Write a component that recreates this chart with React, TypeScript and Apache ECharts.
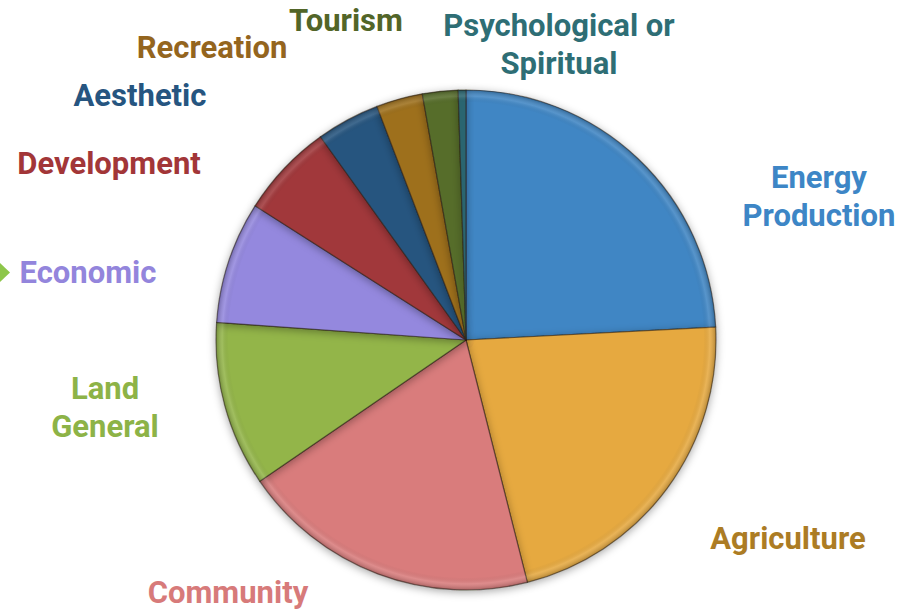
import React, { useEffect, useRef } from "react";
import * as echarts from "echarts";

const categories = [
  "Energy Production",
  "Agriculture",
  "Community",
  "Land General",
  "Economic",
  "Development",
  "Aesthetic",
  "Recreation",
  "Tourism",
  "Psychological or Spiritual",
];
const values = [24.2, 21.9, 19.4, 10.7, 7.9, 6.1, 4.1, 3.0, 2.3, 0.5];
const labelTexts = [
  "Energy\nProduction",
  "Agriculture",
  "Community",
  "Land\nGeneral",
  "Economic",
  "Development",
  "Aesthetic",
  "Recreation",
  "Tourism",
  "Psychological or\nSpiritual",
];
const sliceColors = [
  "#3F86C4",
  "#E6A93F",
  "#D97B7B",
  "#93B54A",
  "#9488DE",
  "#A1393B",
  "#27557F",
  "#9E6F1F",
  "#566D2A",
  "#2B6570",
];
const labelColors = [
  "#3D86C6",
  "#AC7C24",
  "#D77A7A",
  "#8DB347",
  "#9385DC",
  "#A23638",
  "#265580",
  "#94651E",
  "#526528",
  "#2E6E75",
];
// label centre positions (layout only)
const labelPos: [number, number][] = [
  [819, 196],
  [788, 538],
  [228, 592],
  [105, 407],
  [88, 272],
  [109, 163],
  [140, 95],
  [212, 47],
  [346, 20],
  [559, 44],
];

export default function App() {
  const ref = useRef<HTMLDivElement>(null);
  useEffect(() => {
    if (!ref.current) return;
    const chart = echarts.init(ref.current, undefined, { renderer: "svg" });
    chart.setOption({
      animation: false,
      backgroundColor: "#ffffff",
      graphic: [
        {
          type: "polygon",
          shape: { points: [[0, 263], [10, 272.5], [0, 282]] },
          style: { fill: "#8DC64A" },
        },
      ],
      series: [
        {
          type: "pie",
          center: [466, 340],
          radius: 250,
          startAngle: 90,
          clockwise: true,
          avoidLabelOverlap: false,
          data: categories.map((name, i) => ({
            name,
            value: values[i],
            itemStyle: {
              color: sliceColors[i],
            },
            label: { color: labelColors[i] },
          })),
          itemStyle: {
            borderColor: "rgba(40,30,20,0.55)",
            borderWidth: 1.2,
            shadowBlur: 8,
            shadowOffsetY: 2,
            shadowColor: "rgba(0,0,0,0.35)",
          },
          label: {
            show: true,
            position: "outside",
            formatter: (p: any) => labelTexts[p.dataIndex],
            fontFamily: "Roboto",
            fontWeight: "bold",
            fontSize: 31,
            lineHeight: 38,
            align: "center",
          },
          labelLine: { show: false },
          labelLayout: (p: any) => ({
            x: labelPos[p.dataIndex][0],
            y: labelPos[p.dataIndex][1],
            align: "center",
            verticalAlign: "middle",
          }),
          emphasis: { disabled: true },
        },
        {
          type: "pie",
          center: [466, 340],
          radius: 250,
          startAngle: 90,
          clockwise: true,
          silent: true,
          label: { show: false },
          labelLine: { show: false },
          data: categories.map((name, i) => ({ name, value: values[i] })),
          itemStyle: {
            color: {
              type: "radial",
              x: 466,
              y: 340,
              r: 250,
              global: true,
              colorStops: [
                { offset: 0, color: "rgba(0,0,0,0)" },
                { offset: 0.95, color: "rgba(0,0,0,0)" },
                { offset: 0.975, color: "rgba(255,255,255,0.12)" },
                { offset: 1, color: "rgba(0,0,0,0.22)" },
              ],
            },
            borderWidth: 0,
          },
          emphasis: { disabled: true },
        },
      ],
    });
    return () => chart.dispose();
  }, []);
  return (
    <div
      ref={ref}
      style={{ position: "fixed", left: 0, top: 0, width: 903, height: 610 }}
    />
  );
}
